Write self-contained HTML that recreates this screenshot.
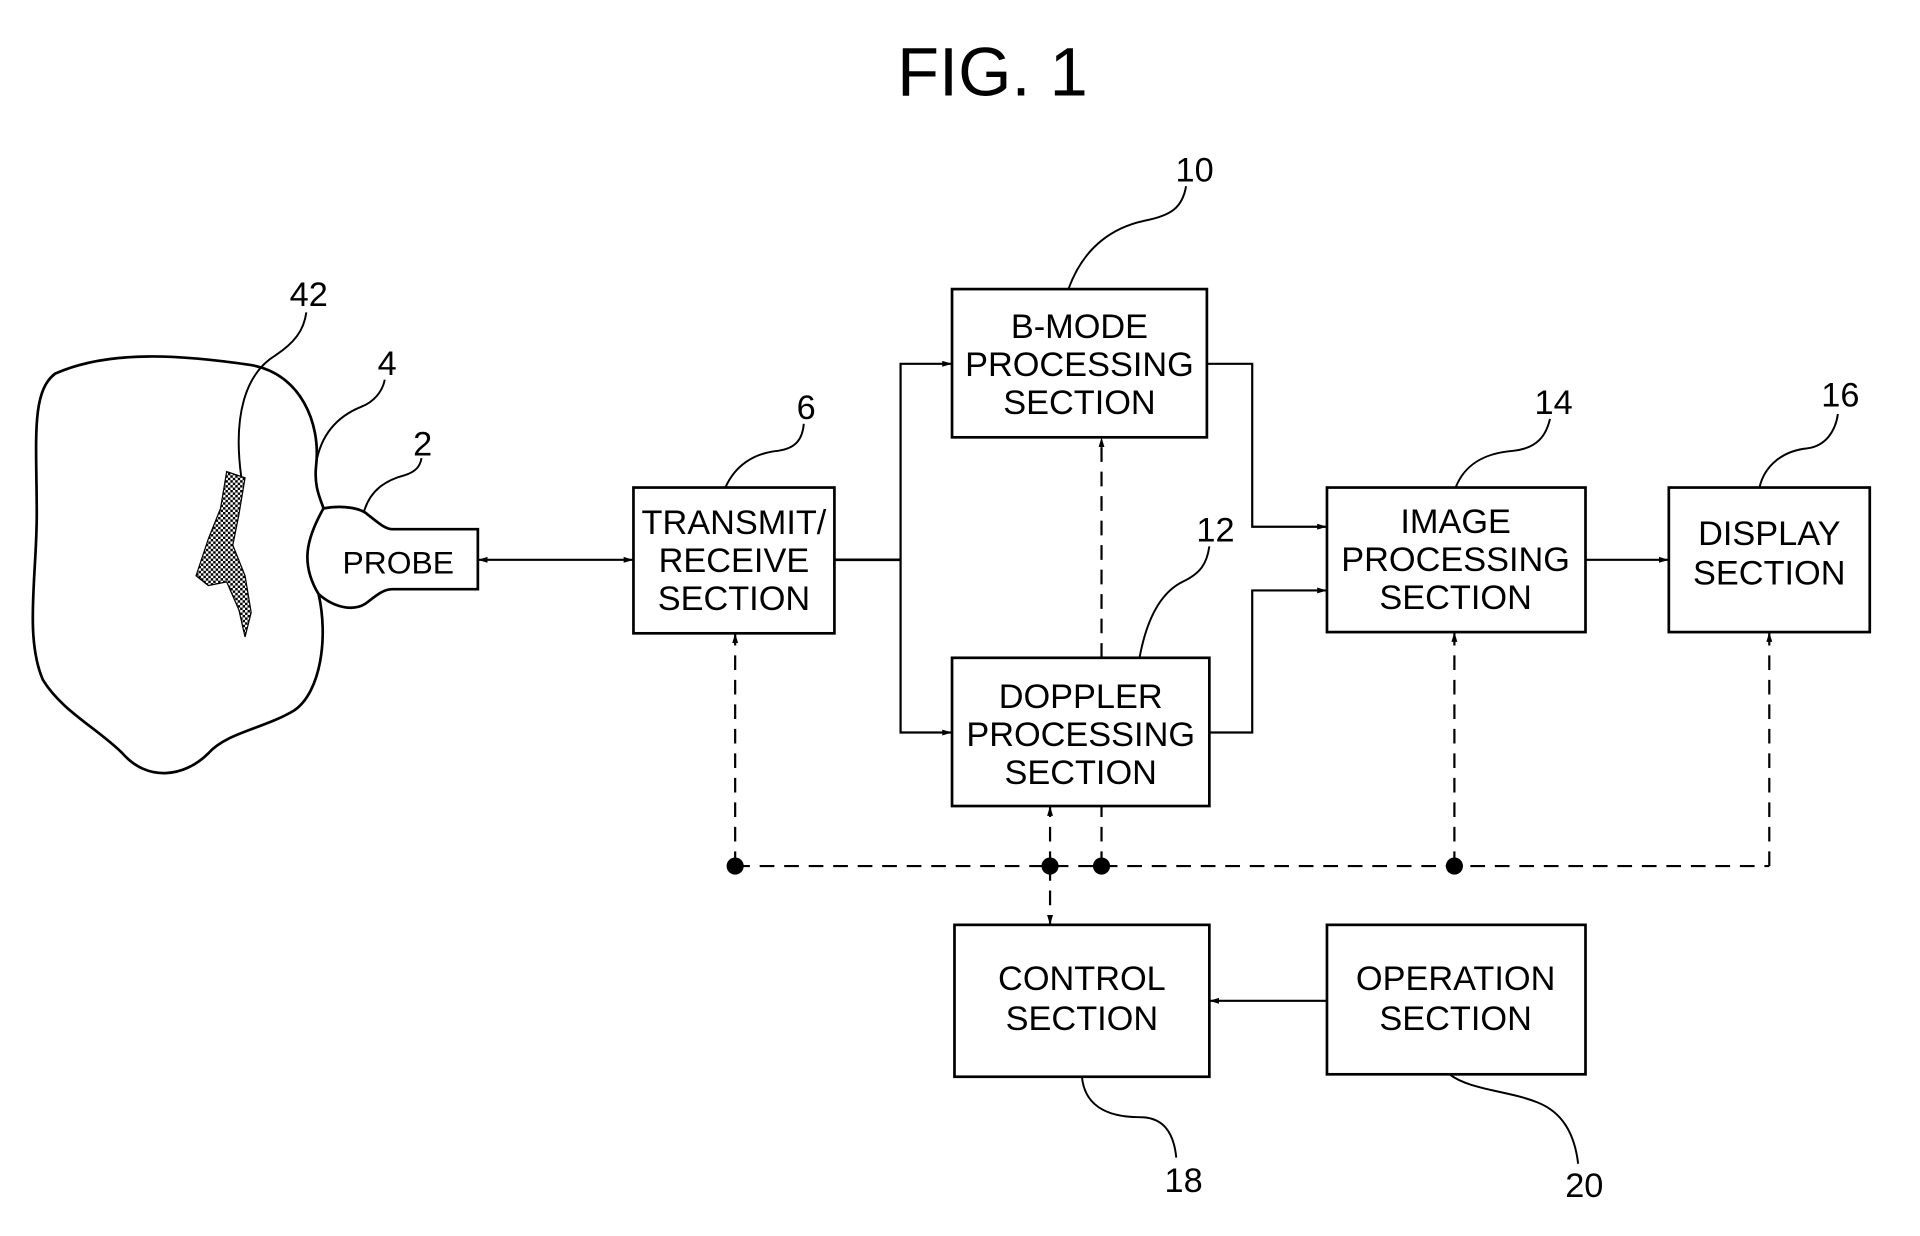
<!DOCTYPE html>
<html><head><meta charset="utf-8"><style>
html,body{margin:0;padding:0;background:#fff;}
svg{display:block;}
text{font-family:"Liberation Sans",Arial,sans-serif;fill:#000;}
</style></head><body>
<svg width="1920" height="1236" viewBox="0 0 1567 1009" preserveAspectRatio="none" xmlns="http://www.w3.org/2000/svg">
<defs>
<marker id="a" viewBox="0 0 10 10" refX="10" refY="5" markerWidth="8" markerHeight="8" orient="auto-start-reverse" markerUnits="userSpaceOnUse"><path d="M0,2 L10,5 L0,8 z" fill="#000"/></marker>
<pattern id="dots" width="4" height="4" patternUnits="userSpaceOnUse"><rect width="2" height="2" fill="#000"/><rect x="2" y="2" width="2" height="2" fill="#000"/></pattern>
</defs>
<g stroke="#000" stroke-width="2.2" fill="none">
<text x="810" y="78" font-size="56" text-anchor="middle" stroke="none">FIG. 1</text>
<path d="M45,305 C90,285 150,290 205,298 C245,305 262,345 258,380 C256,398 262,408 264,415 C250,440 245,460 260,485 C268,520 262,565 240,580 C215,595 185,598 170,615 C150,635 120,638 100,615 C80,595 50,580 35,555 C20,520 30,470 30,420 C30,360 25,320 45,305 Z"/>
<path d="M185,385 L200,390 L195,420 L190,445 L200,470 L205,500 L200,520 L195,498 L185,475 L170,478 L160,470 L170,440 L180,415 Z" fill="url(#dots)" stroke-width="1"/>
<path d="M264,415 C280,412 295,415 300,420 C310,428 315,432 320,432 L390,432 L390,481 L320,481 C312,481 305,488 298,493 C290,498 275,498 260,485"/>
<text x="325" y="468" font-size="26" text-anchor="middle" stroke="none">PROBE</text>
<rect x="517" y="398" width="164" height="119"/>
<rect x="777" y="236" width="208" height="121"/>
<rect x="777" y="537" width="210" height="121"/>
<rect x="1083" y="398" width="211" height="118"/>
<rect x="1362" y="398" width="164" height="118"/>
<rect x="779" y="755" width="208" height="124"/>
<rect x="1083" y="755" width="211" height="122"/>
<g stroke="none" font-size="28" text-anchor="middle">
<text x="599" y="436">TRANSMIT/</text><text x="599" y="467">RECEIVE</text><text x="599" y="498">SECTION</text>
<text x="881" y="276">B-MODE</text><text x="881" y="307">PROCESSING</text><text x="881" y="338">SECTION</text>
<text x="882" y="578">DOPPLER</text><text x="882" y="609">PROCESSING</text><text x="882" y="640">SECTION</text>
<text x="1188" y="435">IMAGE</text><text x="1188" y="466">PROCESSING</text><text x="1188" y="497">SECTION</text>
<text x="1444" y="445">DISPLAY</text><text x="1444" y="477">SECTION</text>
<text x="883" y="808">CONTROL</text><text x="883" y="841">SECTION</text>
<text x="1188" y="808">OPERATION</text><text x="1188" y="841">SECTION</text>
</g>
<line x1="390" y1="457" x2="517" y2="457" marker-start="url(#a)" marker-end="url(#a)" stroke-width="1.8"/>
<polyline points="681,457 735,457"/>
<polyline points="777,297 735,297 735,598 777,598" marker-start="url(#a)" marker-end="url(#a)" stroke-width="1.8"/>
<polyline points="985,297 1022,297 1022,430 1083,430" marker-end="url(#a)" stroke-width="1.8"/>
<polyline points="987,598 1022,598 1022,482 1083,482" marker-end="url(#a)" stroke-width="1.8"/>
<line x1="1294" y1="457" x2="1362" y2="457" marker-end="url(#a)" stroke-width="1.8"/>
<line x1="1083" y1="817" x2="987" y2="817" marker-end="url(#a)" stroke-width="1.8"/>
<g stroke-dasharray="12,8" stroke-width="1.8">
<line x1="600" y1="707" x2="1444" y2="707"/>
<line x1="600" y1="707" x2="600" y2="517" marker-end="url(#a)"/>
<line x1="857" y1="707" x2="857" y2="658" marker-end="url(#a)"/>
<line x1="857" y1="707" x2="857" y2="755" marker-end="url(#a)"/>
<line x1="899" y1="707" x2="899" y2="658"/>
<line x1="899" y1="537" x2="899" y2="357" marker-end="url(#a)"/>
<line x1="1187" y1="707" x2="1187" y2="516" marker-end="url(#a)"/>
<line x1="1444" y1="707" x2="1444" y2="516" marker-end="url(#a)"/>
</g>
<g fill="#000" stroke="none">
<circle cx="600" cy="707" r="7"/><circle cx="857" cy="707" r="7"/><circle cx="899" cy="707" r="7"/><circle cx="1187" cy="707" r="7"/>
</g>
<g stroke-width="1.6">
<path d="M872,236 C885,200 910,185 935,180 C955,176 965,170 968,152"/>
<path d="M592,398 C600,380 615,370 635,368 C650,366 655,358 656,346"/>
<path d="M930,537 C935,510 945,485 965,475 C980,468 985,460 987,446"/>
<path d="M1188,398 C1195,380 1210,370 1235,368 C1255,366 1262,355 1265,342"/>
<path d="M1436,398 C1440,380 1455,368 1475,366 C1490,364 1498,352 1500,338"/>
<path d="M197,390 C190,340 200,305 225,290 C240,280 248,270 250,255"/>
<path d="M258,378 C262,355 275,340 295,332 C305,328 312,320 314,310"/>
<path d="M297,418 C302,400 315,392 330,388 C340,385 343,380 344,374"/>
<path d="M883,879 C885,900 900,912 930,912 C950,912 958,925 960,945"/>
<path d="M1183,877 C1200,890 1230,890 1255,900 C1275,908 1285,925 1288,950"/>
</g>
<g stroke="none" font-size="28" text-anchor="middle">
<text x="975" y="148">10</text><text x="658" y="342">6</text><text x="992" y="442">12</text>
<text x="1268" y="338">14</text><text x="1502" y="332">16</text><text x="252" y="250">42</text>
<text x="316" y="306">4</text><text x="345" y="372">2</text><text x="966" y="973">18</text><text x="1293" y="977">20</text>
</g>
</g>
</svg>
</body></html>
